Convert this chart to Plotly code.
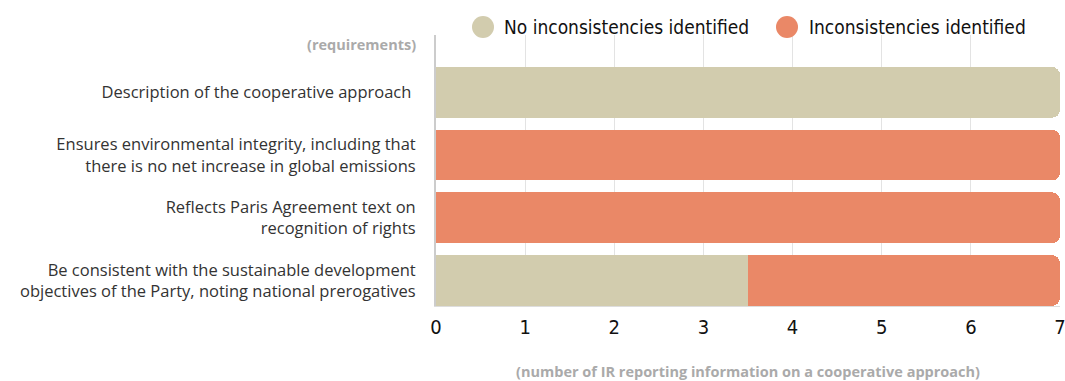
import plotly.graph_objects as go

categories = [
    "Description of the cooperative approach ",
    "Ensures environmental integrity, including that<br>there is no net increase in global emissions",
    "Reflects Paris Agreement text on<br>recognition of rights",
    "Be consistent with the sustainable development<br>objectives of the Party, noting national prerogatives",
]
no_inconsistencies = [7, 0, 0, 3.5]
inconsistencies = [0, 7, 7, 3.5]
series_names = ["No inconsistencies identified", "Inconsistencies identified"]
colors = ["#D2CCAE", "#EA8867"]
x_ticks = [0, 1, 2, 3, 4, 5, 6, 7]

COND = "DejaVu Sans Condensed"

fig = go.Figure()
for vals, name, col in zip([no_inconsistencies, inconsistencies], series_names, colors):
    fig.add_trace(go.Bar(y=categories, x=vals, orientation="h", name=name,
                         marker=dict(color=col, line=dict(width=0)), showlegend=False))

# custom legend (paper coordinates)
L, R, T, B = 436, 1060, 35, 306
def px(x): return (x - L) / (R - L)
def py(y): return (B - y) / (B - T)

shapes = []
annotations = []
for cx, tx, name, col in zip([483, 787], [502, 807], series_names, colors):
    shapes.append(dict(type="circle", xref="paper", yref="paper",
                       x0=px(cx - 11), x1=px(cx + 11), y0=py(38), y1=py(16),
                       fillcolor=col, line=dict(width=0)))
    annotations.append(dict(text=name, xref="paper", yref="paper", x=px(tx), y=py(27),
                            xanchor="left", yanchor="middle", showarrow=False,
                            font=dict(family=COND, size=19, color="#111")))
annotations.append(dict(text="(requirements)", xref="paper", yref="paper", x=px(418), y=py(44),
                        xanchor="right", yanchor="middle", showarrow=False,
                        font=dict(family="Open Sans", size=14.5, color="#AAAAAA", weight="bold")))

fig.update_layout(
    barmode="stack",
    bargap=0.19,
    barcornerradius=8,
    width=1065, height=381,
    margin=dict(l=436, r=5, t=35, b=75, autoexpand=False),
    plot_bgcolor="white", paper_bgcolor="white",
    showlegend=False,
    shapes=shapes,
    annotations=annotations,
    xaxis=dict(range=[0, 7.0001], tickvals=x_ticks, showgrid=True, gridcolor="#E3E3E3", gridwidth=1,
               zeroline=False, showline=True, linecolor="#DDDDDD", linewidth=1,
               ticklabelstandoff=3, ticklabeloverflow="allow",
               tickfont=dict(family=COND, size=20, color="#111"),
               title=dict(text="(number of IR reporting information on a cooperative approach)",
                          font=dict(family="Open Sans", size=14.5, color="#AAAAAA", weight="bold"),
                          standoff=30)),
    yaxis=dict(categoryorder="array", categoryarray=categories, range=[3.407, -0.915],
               showline=True, linecolor="#CCCCCC", linewidth=2, showgrid=False,
               ticklabelstandoff=15,
               tickfont=dict(family="Open Sans", size=16.5, color="#333333")),
)

fig.write_html("out.html")
